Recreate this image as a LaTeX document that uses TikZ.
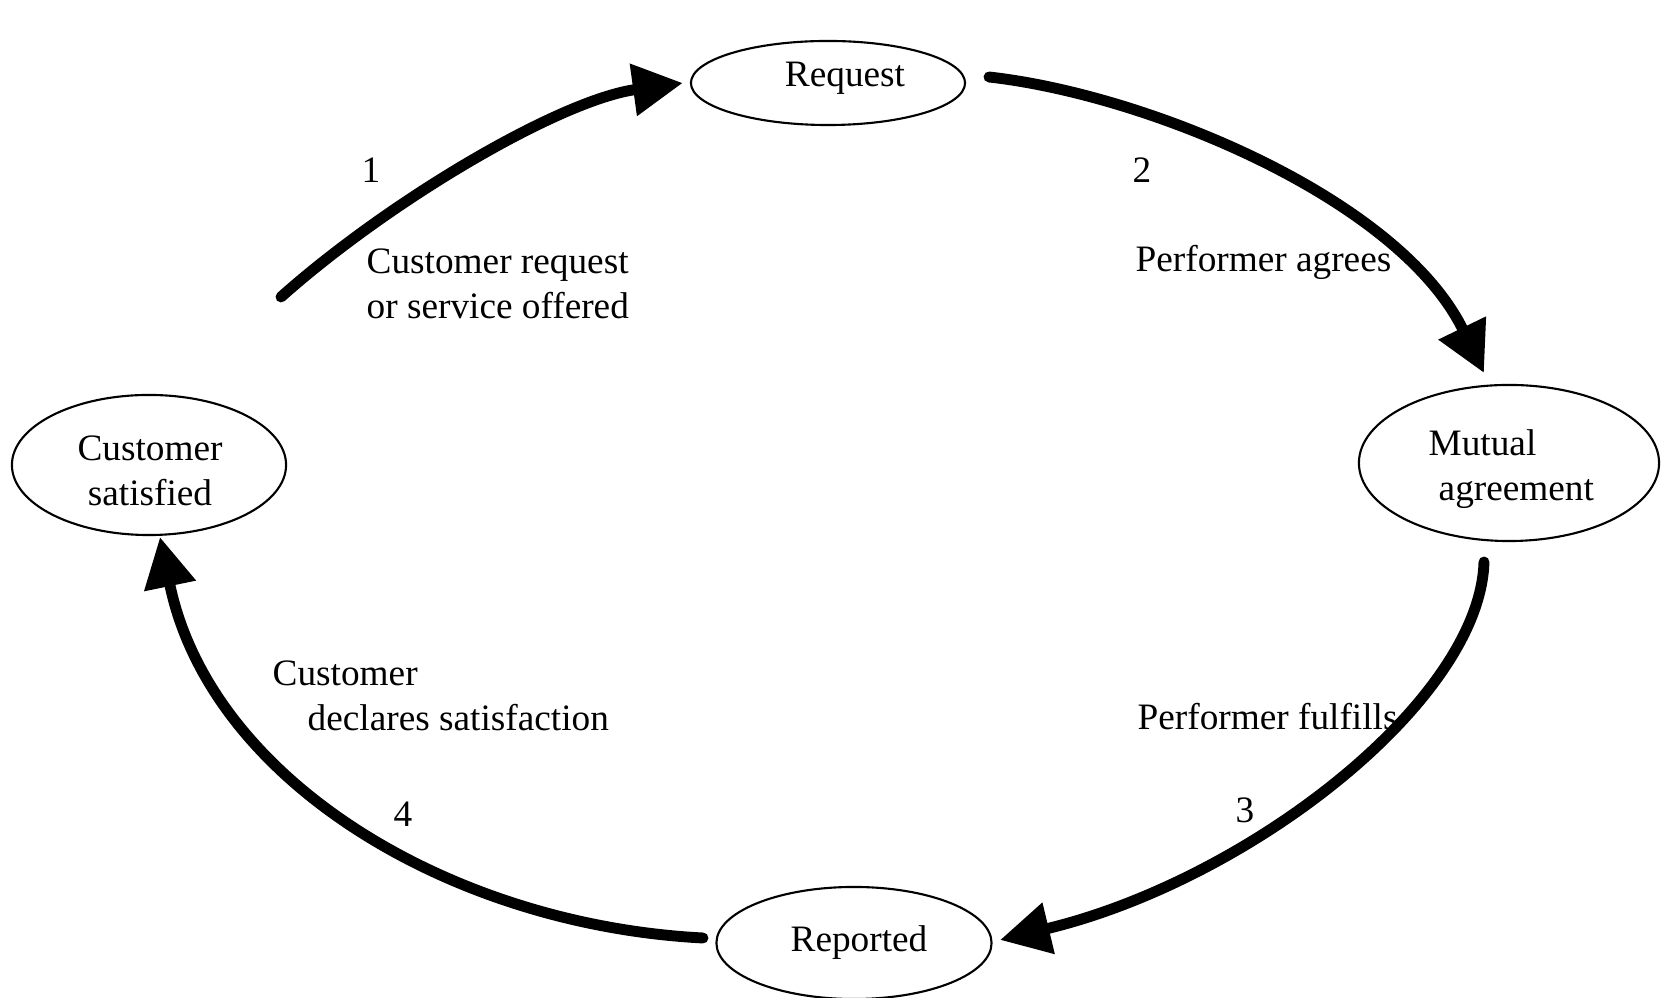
\documentclass[tikz,border=0pt]{standalone}
\usepackage{fontspec}
\setmainfont{Liberation Serif}
\usetikzlibrary{arrows.meta,shapes.geometric}
\begin{document}
\begin{tikzpicture}[x=0.01cm,y=-0.01cm,
  state/.style={draw, ellipse, line width=0.6pt, inner sep=0pt},
  lbl/.style={inner sep=0pt, font=\fontsize{10.6}{12.7}\selectfont},
  flow/.style={line width=3.1pt, line cap=round, -{Triangle[length=0.5cm,width=0.5cm]}}]
\useasboundingbox (0,0) rectangle (1662,998);

% states of the cycle
\node[state, minimum width=2.74cm, minimum height=0.84cm] (req) at (828,83) {};
\node[state, minimum width=3.00cm, minimum height=1.56cm] (mut) at (1509,463) {};
\node[state, minimum width=2.74cm, minimum height=1.40cm] (cust) at (149,465) {};
\node[state, minimum width=2.75cm, minimum height=1.12cm] (rep) at (854,943) {};

\node[lbl] (reqtxt) at (845,78) {Request};
\node[lbl, align=left, anchor=west] (muttxt) at (1428,469) {Mutual\\\hspace*{0.1cm}agreement};
\node[lbl, align=center] (custtxt) at (150,471) {Customer\\satisfied};
\node[lbl] (reptxt) at (859,943) {Reported};

% transitions
\draw[flow] ([shift={(132,-168)}]cust.center) .. controls (390,200) and (560,100) .. ([shift={(-7,0)}]req.west);
\draw[flow] ([shift={(161,-6)}]req.center) .. controls (1150,95) and (1400,200) .. ([shift={(-25,-90)}]mut.center);
\draw[flow] ([shift={(-25,99)}]mut.center) .. controls (1480,700) and (1250,880) .. ([shift={(146,-3)}]rep.center);
\draw[flow] ([shift={(-151,-5)}]rep.center) .. controls (450,925) and (210,780) .. ([shift={(11,72)}]cust.center);

% transition labels
\node[lbl] (n1) at (371,170) {1};
\node[lbl, align=left, anchor=west] (t1) at (366,284) {Customer request\\or service offered};
\node[lbl] (n2) at (1142,170) {2};
\node[lbl, anchor=west] (t2) at (1135,262) {Performer agrees};
\node[lbl, anchor=west] (t3) at (1137,717) {Performer fulfills};
\node[lbl] (n3) at (1245,810) {3};
\node[lbl, align=left, anchor=west] (t4) at (272,696) {Customer\\\hspace*{0.35cm}declares satisfaction};
\node[lbl] (n4) at (403,814) {4};
\end{tikzpicture}
\end{document}
